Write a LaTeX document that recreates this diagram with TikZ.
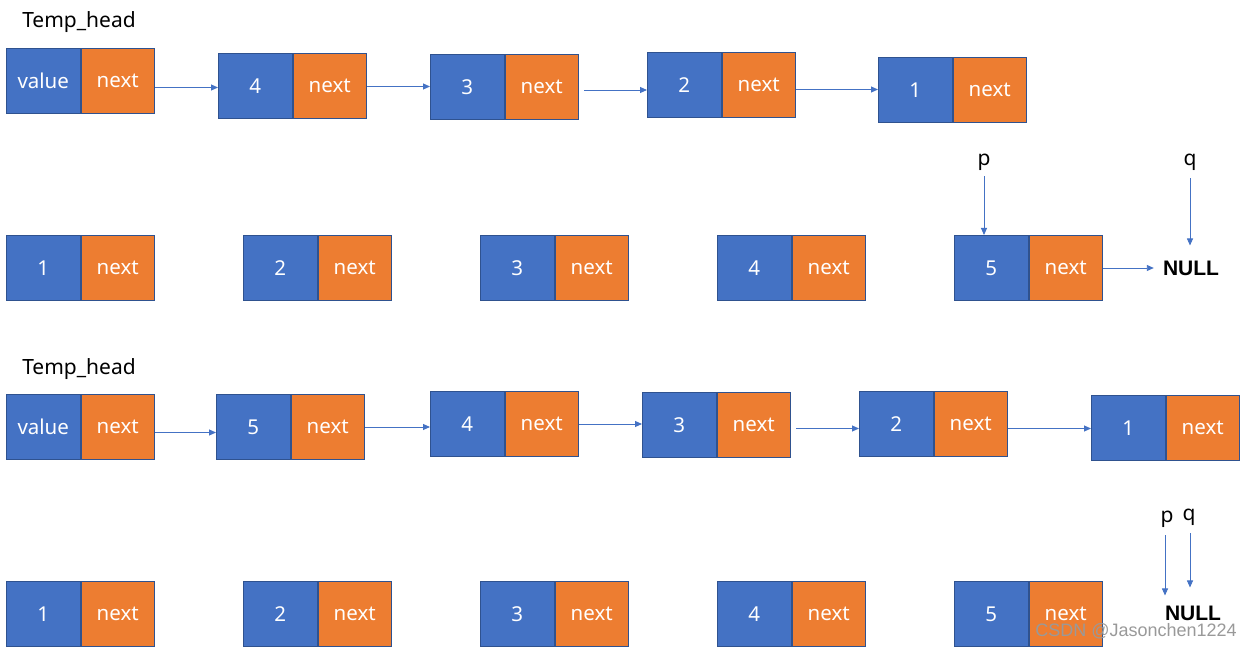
\documentclass[tikz,border=0pt]{standalone}
\usepackage{fontspec}
\setmainfont{Noto Sans}
\newfontfamily\wmfont{Liberation Sans}
\newfontfamily\nlfont{Liberation Sans}
\usetikzlibrary{arrows.meta}
\definecolor{cblue}{HTML}{4472C4}
\definecolor{corange}{HTML}{ED7D31}
\definecolor{cedge}{HTML}{2F528F}
\definecolor{cwm}{HTML}{999999}
\newcommand{\lnode}[4]{%
  \node[cellv, anchor=north west] (#1v) at (#2,#3) {#4};
  \node[celln, anchor=west] (#1n) at (#1v.east) {next};}
\newcommand{\larrow}[4]{%
  \draw[arr] ([xshift=#3,yshift=#4]#1n.east) coordinate (tmp) -- (tmp -| #2v.west);}
\begin{document}
\begin{tikzpicture}[x=1pt,y=-1pt,
  cellv/.style={rectangle, draw=cedge, line width=1pt, fill=cblue, text=white,
    minimum width=73.5pt, minimum height=65pt, inner sep=0pt,
    font=\fontsize{20.5}{24}\selectfont},
  celln/.style={cellv, fill=corange},
  arr/.style={draw=cblue, line width=0.9pt, -{Triangle[length=7pt,width=6pt]}},
  lbl/.style={font=\fontsize{21}{24}\selectfont, inner sep=0pt},
  nulltxt/.style={font=\nlfont\bfseries\fontsize{21}{24}\selectfont, inner sep=0pt}]
\useasboundingbox (0,0) rectangle (1251,647);
% ---- row 1
\node[lbl] (th1) at (79,22) {Temp\_head};
\lnode{h1}{6}{48}{value}
\lnode{a4}{218}{53}{4}
\lnode{a3}{430}{54}{3}
\lnode{a2}{647}{52}{2}
\lnode{a1}{878}{57}{1}
\larrow{h1}{a4}{0pt}{-6.5pt}
\larrow{a4}{a3}{0pt}{-0.5pt}
\larrow{a3}{a2}{5pt}{-3pt}
\larrow{a2}{a1}{0pt}{-4.5pt}
% ---- row 2
\lnode{b1}{6}{235}{1}
\lnode{b2}{243}{235}{2}
\lnode{b3}{480}{235}{3}
\lnode{b4}{717}{235}{4}
\lnode{b5}{954}{235}{5}
\node[nulltxt] (null1) at (1191,268) {NULL};
\draw[arr, shorten >=9pt] (b5n.east) -- (null1.west);
\node[lbl] (p1) at (984,162) {p};
\node[lbl] (q1) at (1190,162) {q};
\draw[arr, shorten <=6pt] (p1.south) -- (p1.south |- b5v.north);
\draw[arr, shorten <=8pt, shorten >=15pt] (q1.south) -- (q1.south |- null1.north);
% ---- row 3
\node[lbl] (th3) at (79,369) {Temp\_head};
\lnode{h3}{6}{394}{value}
\lnode{c5}{216}{394}{5}
\lnode{c4}{430}{391}{4}
\lnode{c3}{642}{392}{3}
\lnode{c2}{859}{391}{2}
\lnode{c1}{1091}{395}{1}
\larrow{h3}{c5}{0pt}{-5.5pt}
\larrow{c5}{c4}{0pt}{0pt}
\larrow{c4}{c3}{0pt}{0pt}
\larrow{c3}{c2}{5pt}{-3.5pt}
\larrow{c2}{c1}{0pt}{-4.5pt}
% ---- row 4
\lnode{d1}{6}{581}{1}
\lnode{d2}{243}{581}{2}
\lnode{d3}{480}{581}{3}
\lnode{d4}{717}{581}{4}
\lnode{d5}{954}{581}{5}
\node[nulltxt] (null2) at (1193,613) {NULL};
\node[lbl] (p2) at (1167,519) {p};
\node[lbl] (q2) at (1189,517) {q};
\draw[arr, shorten <=8pt, shorten >=10pt] ([xshift=-2pt]p2.south) coordinate (pt) -- (pt |- null2.north);
\draw[arr, shorten <=8pt, shorten >=18pt] ([xshift=1pt]q2.south) coordinate (qt) -- (qt |- null2.north);
% ---- watermark
\node[font=\wmfont\fontsize{18}{20}\selectfont, text=cwm, anchor=east, inner sep=0pt] (wm) at (1237,631) {CSDN @Jasonchen1224};
\end{tikzpicture}
\end{document}
